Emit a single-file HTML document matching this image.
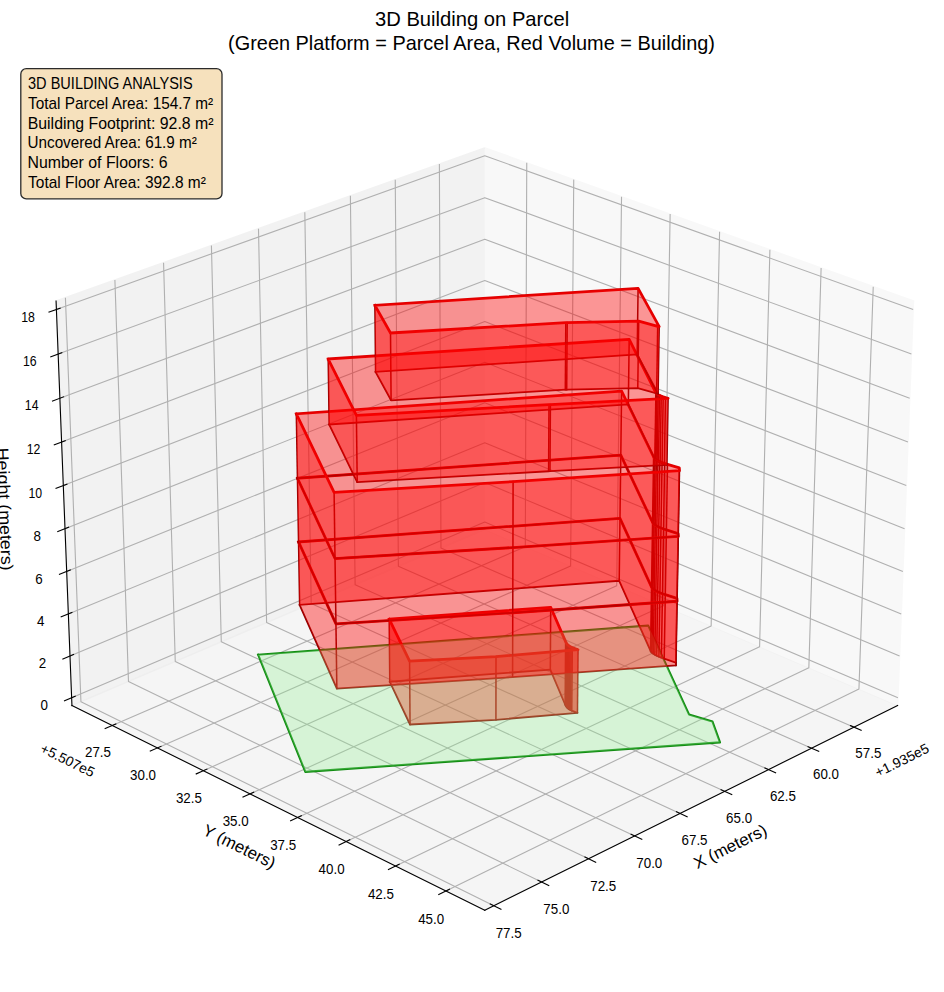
<!DOCTYPE html>
<html><head><meta charset="utf-8"><title>3D Building on Parcel</title>
<style>html,body{margin:0;padding:0;background:#fff;width:944px;height:992px;overflow:hidden}
svg text{font-family:"Liberation Sans",sans-serif}</style></head>
<body>
<svg width="944" height="992" viewBox="0 0 679.68 714.24" version="1.1" style="display:block">
<defs>
<style type="text/css">*{stroke-linejoin: round; stroke-linecap: butt}</style>
</defs>
<g id="figure_1">
<g id="patch_1">
<path d="M 0 714.24 
L 679.68 714.24 
L 679.68 0 
L 0 0 
z
" style="fill: #ffffff"/>
</g>
<g id="patch_2">
<path d="M 7.26 706.92 
L 672.84 706.92 
L 672.84 41.34 
L 7.26 41.34 
z
" style="fill: #ffffff"/>
</g>
<g id="pane3d_1">
<g id="patch_3">
<path d="M 349.04 381.18 
L 646.29 508 
L 657.72 216.77 
L 349.04 106.43 
" style="fill: #f2f2f2; opacity: 0.5; stroke: #f2f2f2; stroke-linejoin: miter"/>
</g>
</g>
<g id="pane3d_2">
<g id="patch_4">
<path d="M 349.04 381.18 
L 51.8 508 
L 40.37 216.77 
L 349.04 106.43 
" style="fill: #e6e6e6; opacity: 0.5; stroke: #e6e6e6; stroke-linejoin: miter"/>
</g>
</g>
<g id="pane3d_3">
<g id="patch_5">
<path d="M 349.04 381.18 
L 51.8 508 
L 349.04 655.36 
L 646.29 508 
" style="fill: #ececec; opacity: 0.5; stroke: #ececec; stroke-linejoin: miter"/>
</g>
</g>
<g id="grid3d_1">
<g id="Line3DCollection_1">
<path d="M 614.9 523.56 
L 317.5 394.64 
L 316.36 118.12 
" style="fill: none; stroke: #b0b0b0; stroke-width: 0.8"/>
<path d="M 584.36 538.71 
L 286.83 407.72 
L 284.58 129.48 
" style="fill: none; stroke: #b0b0b0; stroke-width: 0.8"/>
<path d="M 553.3 554.1 
L 255.69 421.01 
L 252.28 141.02 
" style="fill: none; stroke: #b0b0b0; stroke-width: 0.8"/>
<path d="M 521.72 569.75 
L 224.07 434.5 
L 219.47 152.75 
" style="fill: none; stroke: #b0b0b0; stroke-width: 0.8"/>
<path d="M 489.61 585.67 
L 191.95 448.21 
L 186.11 164.67 
" style="fill: none; stroke: #b0b0b0; stroke-width: 0.8"/>
<path d="M 456.96 601.86 
L 159.32 462.13 
L 152.22 176.79 
" style="fill: none; stroke: #b0b0b0; stroke-width: 0.8"/>
<path d="M 423.74 618.33 
L 126.18 476.27 
L 117.76 189.11 
" style="fill: none; stroke: #b0b0b0; stroke-width: 0.8"/>
<path d="M 389.94 635.08 
L 92.5 490.64 
L 82.73 201.63 
" style="fill: none; stroke: #b0b0b0; stroke-width: 0.8"/>
<path d="M 355.55 652.13 
L 58.27 505.24 
L 47.1 214.36 
" style="fill: none; stroke: #b0b0b0; stroke-width: 0.8"/>
</g>
</g>
<g id="grid3d_2">
<g id="Line3DCollection_2">
<path d="M 379.26 117.24 
L 378.21 393.63 
L 80.82 522.39 
" style="fill: none; stroke: #b0b0b0; stroke-width: 0.8"/>
<path d="M 413.09 129.33 
L 410.85 407.55 
L 113.33 538.51 
" style="fill: none; stroke: #b0b0b0; stroke-width: 0.8"/>
<path d="M 447.5 141.63 
L 444.03 421.71 
L 146.42 554.91 
" style="fill: none; stroke: #b0b0b0; stroke-width: 0.8"/>
<path d="M 482.5 154.14 
L 477.75 436.09 
L 180.09 571.6 
" style="fill: none; stroke: #b0b0b0; stroke-width: 0.8"/>
<path d="M 518.1 166.86 
L 512.04 450.72 
L 214.38 588.6 
" style="fill: none; stroke: #b0b0b0; stroke-width: 0.8"/>
<path d="M 554.33 179.81 
L 546.91 465.6 
L 249.29 605.91 
" style="fill: none; stroke: #b0b0b0; stroke-width: 0.8"/>
<path d="M 591.2 192.99 
L 582.37 480.73 
L 284.84 623.53 
" style="fill: none; stroke: #b0b0b0; stroke-width: 0.8"/>
<path d="M 628.73 206.41 
L 618.44 496.12 
L 321.05 641.48 
" style="fill: none; stroke: #b0b0b0; stroke-width: 0.8"/>
</g>
</g>
<g id="grid3d_3">
<g id="Line3DCollection_3">
<path d="M 51.58 502.39 
L 349.04 375.87 
L 646.51 502.39 
" style="fill: none; stroke: #b0b0b0; stroke-width: 0.8"/>
<path d="M 50.4 472.31 
L 349.04 347.43 
L 647.69 472.31 
" style="fill: none; stroke: #b0b0b0; stroke-width: 0.8"/>
<path d="M 49.21 442 
L 349.04 318.78 
L 648.88 442 
" style="fill: none; stroke: #b0b0b0; stroke-width: 0.8"/>
<path d="M 48.01 411.44 
L 349.04 289.92 
L 650.08 411.44 
" style="fill: none; stroke: #b0b0b0; stroke-width: 0.8"/>
<path d="M 46.8 380.63 
L 349.04 260.84 
L 651.29 380.63 
" style="fill: none; stroke: #b0b0b0; stroke-width: 0.8"/>
<path d="M 45.58 349.58 
L 349.04 231.54 
L 652.51 349.58 
" style="fill: none; stroke: #b0b0b0; stroke-width: 0.8"/>
<path d="M 44.35 318.27 
L 349.04 202.02 
L 653.74 318.27 
" style="fill: none; stroke: #b0b0b0; stroke-width: 0.8"/>
<path d="M 43.11 286.71 
L 349.04 172.28 
L 654.98 286.71 
" style="fill: none; stroke: #b0b0b0; stroke-width: 0.8"/>
<path d="M 41.86 254.89 
L 349.04 142.32 
L 656.22 254.89 
" style="fill: none; stroke: #b0b0b0; stroke-width: 0.8"/>
<path d="M 40.6 222.82 
L 349.04 112.12 
L 657.48 222.82 
" style="fill: none; stroke: #b0b0b0; stroke-width: 0.8"/>
</g>
</g>
<g id="axis3d_1">
<g id="line2d_1">
<path d="M 646.29 508 
L 349.04 655.36 
" style="fill: none; stroke: #000000; stroke-width: 0.8; stroke-linecap: square"/>
</g>
<g id="xtick_1">
<g id="line2d_2">
<path d="M 612.35 522.45 
L 620.03 525.78 
" style="fill: none; stroke: #000000; stroke-width: 0.8; stroke-linecap: square"/>
</g>
<g id="text_1">
<text textLength="18.71" lengthAdjust="spacingAndGlyphs" style="font-size: 10.8px; font-family: 'Liberation Sans', sans-serif; text-anchor: middle" x="625.2" y="545.37" transform="translate(0 0.40) rotate(-0 625.2 545.37)">57.5</text>
</g>
</g>
<g id="xtick_2">
<g id="line2d_3">
<path d="M 581.8 537.58 
L 589.48 540.96 
" style="fill: none; stroke: #000000; stroke-width: 0.8; stroke-linecap: square"/>
</g>
<g id="text_2">
<text textLength="18.71" lengthAdjust="spacingAndGlyphs" style="font-size: 10.8px; font-family: 'Liberation Sans', sans-serif; text-anchor: middle" x="594.7" y="560.65" transform="translate(0 0.40) rotate(-0 594.7 560.65)">60.0</text>
</g>
</g>
<g id="xtick_3">
<g id="line2d_4">
<path d="M 550.74 552.96 
L 558.43 556.4 
" style="fill: none; stroke: #000000; stroke-width: 0.8; stroke-linecap: square"/>
</g>
<g id="text_3">
<text textLength="18.71" lengthAdjust="spacingAndGlyphs" style="font-size: 10.8px; font-family: 'Liberation Sans', sans-serif; text-anchor: middle" x="563.69" y="576.18" transform="translate(0 0.40) rotate(-0 563.69 576.18)">62.5</text>
</g>
</g>
<g id="xtick_4">
<g id="line2d_5">
<path d="M 519.16 568.59 
L 526.86 572.09 
" style="fill: none; stroke: #000000; stroke-width: 0.8; stroke-linecap: square"/>
</g>
<g id="text_4">
<text textLength="18.71" lengthAdjust="spacingAndGlyphs" style="font-size: 10.8px; font-family: 'Liberation Sans', sans-serif; text-anchor: middle" x="532.16" y="591.98" transform="translate(0 0.40) rotate(-0 532.16 591.98)">65.0</text>
</g>
</g>
<g id="xtick_5">
<g id="line2d_6">
<path d="M 487.05 584.49 
L 494.75 588.05 
" style="fill: none; stroke: #000000; stroke-width: 0.8; stroke-linecap: square"/>
</g>
<g id="text_5">
<text textLength="18.71" lengthAdjust="spacingAndGlyphs" style="font-size: 10.8px; font-family: 'Liberation Sans', sans-serif; text-anchor: middle" x="500.09" y="608.04" transform="translate(0 0.40) rotate(-0 500.09 608.04)">67.5</text>
</g>
</g>
<g id="xtick_6">
<g id="line2d_7">
<path d="M 454.39 600.66 
L 462.1 604.28 
" style="fill: none; stroke: #000000; stroke-width: 0.8; stroke-linecap: square"/>
</g>
<g id="text_6">
<text textLength="18.71" lengthAdjust="spacingAndGlyphs" style="font-size: 10.8px; font-family: 'Liberation Sans', sans-serif; text-anchor: middle" x="467.48" y="624.37" transform="translate(0 0.40) rotate(-0 467.48 624.37)">70.0</text>
</g>
</g>
<g id="xtick_7">
<g id="line2d_8">
<path d="M 421.17 617.1 
L 428.88 620.79 
" style="fill: none; stroke: #000000; stroke-width: 0.8; stroke-linecap: square"/>
</g>
<g id="text_7">
<text textLength="18.71" lengthAdjust="spacingAndGlyphs" style="font-size: 10.8px; font-family: 'Liberation Sans', sans-serif; text-anchor: middle" x="434.31" y="640.99" transform="translate(0 0.40) rotate(-0 434.31 640.99)">72.5</text>
</g>
</g>
<g id="xtick_8">
<g id="line2d_9">
<path d="M 387.37 633.84 
L 395.09 637.58 
" style="fill: none; stroke: #000000; stroke-width: 0.8; stroke-linecap: square"/>
</g>
<g id="text_8">
<text textLength="18.71" lengthAdjust="spacingAndGlyphs" style="font-size: 10.8px; font-family: 'Liberation Sans', sans-serif; text-anchor: middle" x="400.56" y="657.89" transform="translate(0 0.40) rotate(-0 400.56 657.89)">75.0</text>
</g>
</g>
<g id="xtick_9">
<g id="line2d_10">
<path d="M 352.98 650.86 
L 360.7 654.67 
" style="fill: none; stroke: #000000; stroke-width: 0.8; stroke-linecap: square"/>
</g>
<g id="text_9">
<text textLength="18.71" lengthAdjust="spacingAndGlyphs" style="font-size: 10.8px; font-family: 'Liberation Sans', sans-serif; text-anchor: middle" x="366.22" y="675.09" transform="translate(0 0.40) rotate(-0 366.22 675.09)">77.5</text>
</g>
</g>
<g id="text_10">
<text style="font-size: 10px; font-family: 'Liberation Sans', sans-serif; text-anchor: end" x="669.75" y="540.46" transform="translate(0 0.75) rotate(-26.37 669.75 540.46)">+1.935e5</text>
</g>
<g id="text_11">
<text textLength="57.12" lengthAdjust="spacingAndGlyphs" style="font-size: 12px; font-family: 'Liberation Sans', sans-serif; text-anchor: middle" x="527.6" y="613.11" transform="rotate(-26.37 527.6 613.11)">X (meters)</text>
</g>
</g>
<g id="axis3d_2">
<g id="line2d_11">
<path d="M 51.8 508 
L 349.04 655.36 
" style="fill: none; stroke: #000000; stroke-width: 0.8; stroke-linecap: square"/>
</g>
<g id="xtick_10">
<g id="line2d_12">
<path d="M 83.38 521.28 
L 75.7 524.61 
" style="fill: none; stroke: #000000; stroke-width: 0.8; stroke-linecap: square"/>
</g>
<g id="text_12">
<text textLength="18.71" lengthAdjust="spacingAndGlyphs" style="font-size: 10.8px; font-family: 'Liberation Sans', sans-serif; text-anchor: middle" x="70.53" y="544.19" transform="translate(0 1.10) rotate(-0 70.53 544.19)">27.5</text>
</g>
</g>
<g id="xtick_11">
<g id="line2d_13">
<path d="M 115.89 537.38 
L 108.2 540.77 
" style="fill: none; stroke: #000000; stroke-width: 0.8; stroke-linecap: square"/>
</g>
<g id="text_13">
<text textLength="18.71" lengthAdjust="spacingAndGlyphs" style="font-size: 10.8px; font-family: 'Liberation Sans', sans-serif; text-anchor: middle" x="102.99" y="560.45" transform="translate(0 1.10) rotate(-0 102.99 560.45)">30.0</text>
</g>
</g>
<g id="xtick_12">
<g id="line2d_14">
<path d="M 148.98 553.76 
L 141.28 557.21 
" style="fill: none; stroke: #000000; stroke-width: 0.8; stroke-linecap: square"/>
</g>
<g id="text_14">
<text textLength="18.71" lengthAdjust="spacingAndGlyphs" style="font-size: 10.8px; font-family: 'Liberation Sans', sans-serif; text-anchor: middle" x="136.03" y="577" transform="translate(0 1.10) rotate(-0 136.03 577)">32.5</text>
</g>
</g>
<g id="xtick_13">
<g id="line2d_15">
<path d="M 182.66 570.44 
L 174.96 573.94 
" style="fill: none; stroke: #000000; stroke-width: 0.8; stroke-linecap: square"/>
</g>
<g id="text_15">
<text textLength="18.71" lengthAdjust="spacingAndGlyphs" style="font-size: 10.8px; font-family: 'Liberation Sans', sans-serif; text-anchor: middle" x="169.66" y="593.84" transform="translate(0 1.10) rotate(-0 169.66 593.84)">35.0</text>
</g>
</g>
<g id="xtick_14">
<g id="line2d_16">
<path d="M 216.94 587.41 
L 209.24 590.98 
" style="fill: none; stroke: #000000; stroke-width: 0.8; stroke-linecap: square"/>
</g>
<g id="text_16">
<text textLength="18.71" lengthAdjust="spacingAndGlyphs" style="font-size: 10.8px; font-family: 'Liberation Sans', sans-serif; text-anchor: middle" x="203.89" y="610.99" transform="translate(0 1.10) rotate(-0 203.89 610.99)">37.5</text>
</g>
</g>
<g id="xtick_15">
<g id="line2d_17">
<path d="M 251.85 604.7 
L 244.14 608.33 
" style="fill: none; stroke: #000000; stroke-width: 0.8; stroke-linecap: square"/>
</g>
<g id="text_17">
<text textLength="18.71" lengthAdjust="spacingAndGlyphs" style="font-size: 10.8px; font-family: 'Liberation Sans', sans-serif; text-anchor: middle" x="238.75" y="628.45" transform="translate(0 1.10) rotate(-0 238.75 628.45)">40.0</text>
</g>
</g>
<g id="xtick_16">
<g id="line2d_18">
<path d="M 287.41 622.3 
L 279.69 626 
" style="fill: none; stroke: #000000; stroke-width: 0.8; stroke-linecap: square"/>
</g>
<g id="text_18">
<text textLength="18.71" lengthAdjust="spacingAndGlyphs" style="font-size: 10.8px; font-family: 'Liberation Sans', sans-serif; text-anchor: middle" x="274.25" y="646.23" transform="translate(0 1.10) rotate(-0 274.25 646.23)">42.5</text>
</g>
</g>
<g id="xtick_17">
<g id="line2d_19">
<path d="M 323.62 640.22 
L 315.9 644 
" style="fill: none; stroke: #000000; stroke-width: 0.8; stroke-linecap: square"/>
</g>
<g id="text_19">
<text textLength="18.71" lengthAdjust="spacingAndGlyphs" style="font-size: 10.8px; font-family: 'Liberation Sans', sans-serif; text-anchor: middle" x="310.41" y="664.35" transform="translate(0 1.10) rotate(-0 310.41 664.35)">45.0</text>
</g>
</g>
<g id="text_20">
<text style="font-size: 10px; font-family: 'Liberation Sans', sans-serif; text-anchor: start" x="28.34" y="540.46" transform="translate(0 0.75) rotate(-333.63 28.34 540.46)">+5.507e5</text>
</g>
<g id="text_21">
<text textLength="56.90" lengthAdjust="spacingAndGlyphs" style="font-size: 12px; font-family: 'Liberation Sans', sans-serif; text-anchor: middle" x="170.49" y="613.11" transform="rotate(-333.63 170.49 613.11)">Y (meters)</text>
</g>
</g>
<g id="axis3d_3">
<g id="line2d_20">
<path d="M 51.8 508 
L 40.37 216.77 
" style="fill: none; stroke: #000000; stroke-width: 0.8; stroke-linecap: square"/>
</g>
<g id="xtick_18">
<g id="line2d_21">
<path d="M 54.13 501.3 
L 46.45 504.57 
" style="fill: none; stroke: #000000; stroke-width: 0.8; stroke-linecap: square"/>
</g>
<g id="text_22">
<text textLength="5.35" lengthAdjust="spacingAndGlyphs" style="font-size: 10.8px; font-family: 'Liberation Sans', sans-serif; text-anchor: middle" x="31.84" y="510.22" transform="translate(0 1.00) rotate(-0 31.84 510.22)">0</text>
</g>
</g>
<g id="xtick_19">
<g id="line2d_22">
<path d="M 52.96 471.24 
L 45.25 474.46 
" style="fill: none; stroke: #000000; stroke-width: 0.8; stroke-linecap: square"/>
</g>
<g id="text_23">
<text textLength="5.35" lengthAdjust="spacingAndGlyphs" style="font-size: 10.8px; font-family: 'Liberation Sans', sans-serif; text-anchor: middle" x="30.58" y="480.14" transform="translate(0 1.00) rotate(-0 30.58 480.14)">2</text>
</g>
</g>
<g id="xtick_20">
<g id="line2d_23">
<path d="M 51.78 440.94 
L 44.04 444.12 
" style="fill: none; stroke: #000000; stroke-width: 0.8; stroke-linecap: square"/>
</g>
<g id="text_24">
<text textLength="5.35" lengthAdjust="spacingAndGlyphs" style="font-size: 10.8px; font-family: 'Liberation Sans', sans-serif; text-anchor: middle" x="29.31" y="449.82" transform="translate(0 1.00) rotate(-0 29.31 449.82)">4</text>
</g>
</g>
<g id="xtick_21">
<g id="line2d_24">
<path d="M 50.6 410.39 
L 42.82 413.53 
" style="fill: none; stroke: #000000; stroke-width: 0.8; stroke-linecap: square"/>
</g>
<g id="text_25">
<text textLength="5.35" lengthAdjust="spacingAndGlyphs" style="font-size: 10.8px; font-family: 'Liberation Sans', sans-serif; text-anchor: middle" x="28.03" y="419.26" transform="translate(0 1.00) rotate(-0 28.03 419.26)">6</text>
</g>
</g>
<g id="xtick_22">
<g id="line2d_25">
<path d="M 49.4 379.6 
L 41.59 382.7 
" style="fill: none; stroke: #000000; stroke-width: 0.8; stroke-linecap: square"/>
</g>
<g id="text_26">
<text textLength="5.35" lengthAdjust="spacingAndGlyphs" style="font-size: 10.8px; font-family: 'Liberation Sans', sans-serif; text-anchor: middle" x="26.74" y="388.46" transform="translate(0 1.00) rotate(-0 26.74 388.46)">8</text>
</g>
</g>
<g id="xtick_23">
<g id="line2d_26">
<path d="M 48.19 348.56 
L 40.35 351.61 
" style="fill: none; stroke: #000000; stroke-width: 0.8; stroke-linecap: square"/>
</g>
<g id="text_27">
<text textLength="9.85" lengthAdjust="spacingAndGlyphs" style="font-size: 10.8px; font-family: 'Liberation Sans', sans-serif; text-anchor: middle" x="25.44" y="357.4" transform="translate(0 1.00) rotate(-0 25.44 357.4)">10</text>
</g>
</g>
<g id="xtick_24">
<g id="line2d_27">
<path d="M 46.97 317.27 
L 39.09 320.28 
" style="fill: none; stroke: #000000; stroke-width: 0.8; stroke-linecap: square"/>
</g>
<g id="text_28">
<text textLength="9.85" lengthAdjust="spacingAndGlyphs" style="font-size: 10.8px; font-family: 'Liberation Sans', sans-serif; text-anchor: middle" x="24.13" y="326.1" transform="translate(0 1.00) rotate(-0 24.13 326.1)">12</text>
</g>
</g>
<g id="xtick_25">
<g id="line2d_28">
<path d="M 45.74 285.73 
L 37.83 288.69 
" style="fill: none; stroke: #000000; stroke-width: 0.8; stroke-linecap: square"/>
</g>
<g id="text_29">
<text textLength="9.85" lengthAdjust="spacingAndGlyphs" style="font-size: 10.8px; font-family: 'Liberation Sans', sans-serif; text-anchor: middle" x="22.81" y="294.54" transform="translate(0 1.00) rotate(-0 22.81 294.54)">14</text>
</g>
</g>
<g id="xtick_26">
<g id="line2d_29">
<path d="M 44.51 253.92 
L 36.56 256.84 
" style="fill: none; stroke: #000000; stroke-width: 0.8; stroke-linecap: square"/>
</g>
<g id="text_30">
<text textLength="9.85" lengthAdjust="spacingAndGlyphs" style="font-size: 10.8px; font-family: 'Liberation Sans', sans-serif; text-anchor: middle" x="21.48" y="262.72" transform="translate(0 1.00) rotate(-0 21.48 262.72)">16</text>
</g>
</g>
<g id="xtick_27">
<g id="line2d_30">
<path d="M 43.26 221.86 
L 35.28 224.73 
" style="fill: none; stroke: #000000; stroke-width: 0.8; stroke-linecap: square"/>
</g>
<g id="text_31">
<text textLength="9.85" lengthAdjust="spacingAndGlyphs" style="font-size: 10.8px; font-family: 'Liberation Sans', sans-serif; text-anchor: middle" x="20.14" y="230.64" transform="translate(0 1.00) rotate(-0 20.14 230.64)">18</text>
</g>
</g>
<g id="text_32">
<text textLength="88.47" lengthAdjust="spacingAndGlyphs" style="font-size: 12px; font-family: 'Liberation Sans', sans-serif; text-anchor: middle" x="-0.59" y="365.26" transform="translate(0 1.5) rotate(-272.25 -0.59 365.26)">Height (meters)</text>
</g>
</g>
<g id="axes_1">
<g id="line2d_31">
<path d="M 185.83 471.38 
L 466.71 450.43 
L 496.08 514.37 
L 513 519.56 
L 518.4 534.53 
L 219.82 555.77 
L 185.83 471.38 
" clip-path="url(#p1579cad66d)" style="fill: none; stroke: #128c12; stroke-width: 1.5; stroke-linecap: square"/>
</g>
<g id="line2d_32">
<path d="M 280.63 490.81 
L 396.23 482.07 
L 406.9 507.25 
L 407.25 508 
L 407.68 508.68 
L 408.17 509.31 
L 408.74 509.9 
L 409.38 510.42 
L 410.07 510.88 
L 410.84 511.29 
L 411.67 511.65 
L 415.76 513.2 
L 357.07 518.26 
L 295.23 521.64 
L 280.63 490.81 
" clip-path="url(#p1579cad66d)" style="fill: none; stroke: #8b0000; stroke-width: 1.3; stroke-linecap: square"/>
</g>
<g id="line2d_33">
<path d="M 280.63 490.81 
L 280.22 445.82 
" clip-path="url(#p1579cad66d)" style="fill: none; stroke: #8b0000; stroke-width: 1.1; stroke-linecap: square"/>
</g>
<g id="line2d_34">
<path d="M 396.23 482.07 
L 396.51 437.25 
" clip-path="url(#p1579cad66d)" style="fill: none; stroke: #8b0000; stroke-width: 1.1; stroke-linecap: square"/>
</g>
<g id="line2d_35">
<path d="M 406.9 507.25 
L 407.24 461.95 
" clip-path="url(#p1579cad66d)" style="fill: none; stroke: #8b0000; stroke-width: 1.1; stroke-linecap: square"/>
</g>
<g id="line2d_36">
<path d="M 407.25 508 
L 407.6 462.68 
" clip-path="url(#p1579cad66d)" style="fill: none; stroke: #8b0000; stroke-width: 1.1; stroke-linecap: square"/>
</g>
<g id="line2d_37">
<path d="M 407.68 508.68 
L 408.03 463.35 
" clip-path="url(#p1579cad66d)" style="fill: none; stroke: #8b0000; stroke-width: 1.1; stroke-linecap: square"/>
</g>
<g id="line2d_38">
<path d="M 408.17 509.31 
L 408.52 463.97 
" clip-path="url(#p1579cad66d)" style="fill: none; stroke: #8b0000; stroke-width: 1.1; stroke-linecap: square"/>
</g>
<g id="line2d_39">
<path d="M 408.74 509.9 
L 409.09 464.55 
" clip-path="url(#p1579cad66d)" style="fill: none; stroke: #8b0000; stroke-width: 1.1; stroke-linecap: square"/>
</g>
<g id="line2d_40">
<path d="M 409.38 510.42 
L 409.74 465.06 
" clip-path="url(#p1579cad66d)" style="fill: none; stroke: #8b0000; stroke-width: 1.1; stroke-linecap: square"/>
</g>
<g id="line2d_41">
<path d="M 410.07 510.88 
L 410.43 465.51 
" clip-path="url(#p1579cad66d)" style="fill: none; stroke: #8b0000; stroke-width: 1.1; stroke-linecap: square"/>
</g>
<g id="line2d_42">
<path d="M 410.84 511.29 
L 411.21 465.92 
" clip-path="url(#p1579cad66d)" style="fill: none; stroke: #8b0000; stroke-width: 1.1; stroke-linecap: square"/>
</g>
<g id="line2d_43">
<path d="M 411.67 511.65 
L 412.04 466.27 
" clip-path="url(#p1579cad66d)" style="fill: none; stroke: #8b0000; stroke-width: 1.1; stroke-linecap: square"/>
</g>
<g id="line2d_44">
<path d="M 415.76 513.2 
L 416.16 467.79 
" clip-path="url(#p1579cad66d)" style="fill: none; stroke: #8b0000; stroke-width: 1.1; stroke-linecap: square"/>
</g>
<g id="line2d_45">
<path d="M 357.07 518.26 
L 357.12 472.75 
" clip-path="url(#p1579cad66d)" style="fill: none; stroke: #8b0000; stroke-width: 1.1; stroke-linecap: square"/>
</g>
<g id="line2d_46">
<path d="M 295.23 521.64 
L 294.91 476.07 
" clip-path="url(#p1579cad66d)" style="fill: none; stroke: #8b0000; stroke-width: 1.1; stroke-linecap: square"/>
</g>
<g id="line2d_47">
<path d="M 280.22 445.82 
L 396.51 437.25 
L 407.24 461.95 
L 407.6 462.68 
L 408.03 463.35 
L 408.52 463.97 
L 409.09 464.55 
L 409.74 465.06 
L 410.43 465.51 
L 411.21 465.92 
L 412.04 466.27 
L 416.16 467.79 
L 357.12 472.75 
L 294.91 476.07 
L 280.22 445.82 
" clip-path="url(#p1579cad66d)" style="fill: none; stroke: #e00000; stroke-width: 2; stroke-linecap: square"/>
</g>
<g id="line2d_48">
<path d="M 215.74 435.51 
L 445.83 418.15 
L 468.4 468.66 
L 468.83 469.35 
L 469.48 470.04 
L 470.35 470.74 
L 471.47 471.43 
L 472.81 472.14 
L 474.4 472.84 
L 476.19 473.55 
L 478.23 474.26 
L 486.56 477.03 
L 486.7 479.09 
L 369.06 487.53 
L 242.53 495.74 
L 215.74 435.51 
" clip-path="url(#p1579cad66d)" style="fill: none; stroke: #8b0000; stroke-width: 1.3; stroke-linecap: square"/>
</g>
<g id="line2d_49">
<path d="M 215.74 435.51 
L 214.95 390.19 
" clip-path="url(#p1579cad66d)" style="fill: none; stroke: #8b0000; stroke-width: 1.1; stroke-linecap: square"/>
</g>
<g id="line2d_50">
<path d="M 445.83 418.15 
L 446.39 373.19 
" clip-path="url(#p1579cad66d)" style="fill: none; stroke: #8b0000; stroke-width: 1.1; stroke-linecap: square"/>
</g>
<g id="line2d_51">
<path d="M 468.4 468.66 
L 469.12 422.68 
" clip-path="url(#p1579cad66d)" style="fill: none; stroke: #8b0000; stroke-width: 1.1; stroke-linecap: square"/>
</g>
<g id="line2d_52">
<path d="M 468.83 469.35 
L 469.55 423.35 
" clip-path="url(#p1579cad66d)" style="fill: none; stroke: #8b0000; stroke-width: 1.1; stroke-linecap: square"/>
</g>
<g id="line2d_53">
<path d="M 469.48 470.04 
L 470.2 424.03 
" clip-path="url(#p1579cad66d)" style="fill: none; stroke: #8b0000; stroke-width: 1.1; stroke-linecap: square"/>
</g>
<g id="line2d_54">
<path d="M 470.35 470.74 
L 471.09 424.72 
" clip-path="url(#p1579cad66d)" style="fill: none; stroke: #8b0000; stroke-width: 1.1; stroke-linecap: square"/>
</g>
<g id="line2d_55">
<path d="M 471.47 471.43 
L 472.22 425.4 
" clip-path="url(#p1579cad66d)" style="fill: none; stroke: #8b0000; stroke-width: 1.1; stroke-linecap: square"/>
</g>
<g id="line2d_56">
<path d="M 472.81 472.14 
L 473.56 426.1 
" clip-path="url(#p1579cad66d)" style="fill: none; stroke: #8b0000; stroke-width: 1.1; stroke-linecap: square"/>
</g>
<g id="line2d_57">
<path d="M 474.4 472.84 
L 475.15 426.78 
" clip-path="url(#p1579cad66d)" style="fill: none; stroke: #8b0000; stroke-width: 1.1; stroke-linecap: square"/>
</g>
<g id="line2d_58">
<path d="M 476.19 473.55 
L 476.97 427.47 
" clip-path="url(#p1579cad66d)" style="fill: none; stroke: #8b0000; stroke-width: 1.1; stroke-linecap: square"/>
</g>
<g id="line2d_59">
<path d="M 478.23 474.26 
L 479.01 428.17 
" clip-path="url(#p1579cad66d)" style="fill: none; stroke: #8b0000; stroke-width: 1.1; stroke-linecap: square"/>
</g>
<g id="line2d_60">
<path d="M 486.56 477.03 
L 487.39 430.88 
" clip-path="url(#p1579cad66d)" style="fill: none; stroke: #8b0000; stroke-width: 1.1; stroke-linecap: square"/>
</g>
<g id="line2d_61">
<path d="M 486.7 479.09 
L 487.53 432.9 
" clip-path="url(#p1579cad66d)" style="fill: none; stroke: #8b0000; stroke-width: 1.1; stroke-linecap: square"/>
</g>
<g id="line2d_62">
<path d="M 369.06 487.53 
L 369.18 441.18 
" clip-path="url(#p1579cad66d)" style="fill: none; stroke: #8b0000; stroke-width: 1.1; stroke-linecap: square"/>
</g>
<g id="line2d_63">
<path d="M 242.53 495.74 
L 241.88 449.22 
" clip-path="url(#p1579cad66d)" style="fill: none; stroke: #8b0000; stroke-width: 1.1; stroke-linecap: square"/>
</g>
<g id="line2d_64">
<path d="M 214.95 390.19 
L 446.39 373.19 
L 469.12 422.68 
L 469.55 423.35 
L 470.2 424.03 
L 471.09 424.72 
L 472.22 425.4 
L 473.56 426.1 
L 475.15 426.78 
L 476.97 427.47 
L 479.01 428.17 
L 487.39 430.88 
L 487.53 432.9 
L 369.18 441.18 
L 241.88 449.22 
L 214.95 390.19 
" clip-path="url(#p1579cad66d)" style="fill: none; stroke: #e00000; stroke-width: 2; stroke-linecap: square"/>
</g>
<g id="line2d_65">
<path d="M 214.95 390.19 
L 446.39 373.19 
L 469.12 422.68 
L 469.55 423.35 
L 470.2 424.03 
L 471.09 424.72 
L 472.22 425.4 
L 473.56 426.1 
L 475.15 426.78 
L 476.97 427.47 
L 479.01 428.17 
L 487.39 430.88 
L 487.53 432.9 
L 369.18 441.18 
L 241.88 449.22 
L 214.95 390.19 
" clip-path="url(#p1579cad66d)" style="fill: none; stroke: #8b0000; stroke-width: 1.3; stroke-linecap: square"/>
</g>
<g id="line2d_66">
<path d="M 214.95 390.19 
L 214.16 344.34 
" clip-path="url(#p1579cad66d)" style="fill: none; stroke: #8b0000; stroke-width: 1.1; stroke-linecap: square"/>
</g>
<g id="line2d_67">
<path d="M 446.39 373.19 
L 446.97 327.7 
" clip-path="url(#p1579cad66d)" style="fill: none; stroke: #8b0000; stroke-width: 1.1; stroke-linecap: square"/>
</g>
<g id="line2d_68">
<path d="M 469.12 422.68 
L 469.85 376.14 
" clip-path="url(#p1579cad66d)" style="fill: none; stroke: #8b0000; stroke-width: 1.1; stroke-linecap: square"/>
</g>
<g id="line2d_69">
<path d="M 469.55 423.35 
L 470.29 376.8 
" clip-path="url(#p1579cad66d)" style="fill: none; stroke: #8b0000; stroke-width: 1.1; stroke-linecap: square"/>
</g>
<g id="line2d_70">
<path d="M 470.2 424.03 
L 470.94 377.47 
" clip-path="url(#p1579cad66d)" style="fill: none; stroke: #8b0000; stroke-width: 1.1; stroke-linecap: square"/>
</g>
<g id="line2d_71">
<path d="M 471.09 424.72 
L 471.83 378.14 
" clip-path="url(#p1579cad66d)" style="fill: none; stroke: #8b0000; stroke-width: 1.1; stroke-linecap: square"/>
</g>
<g id="line2d_72">
<path d="M 472.22 425.4 
L 472.96 378.81 
" clip-path="url(#p1579cad66d)" style="fill: none; stroke: #8b0000; stroke-width: 1.1; stroke-linecap: square"/>
</g>
<g id="line2d_73">
<path d="M 473.56 426.1 
L 474.32 379.49 
" clip-path="url(#p1579cad66d)" style="fill: none; stroke: #8b0000; stroke-width: 1.1; stroke-linecap: square"/>
</g>
<g id="line2d_74">
<path d="M 475.15 426.78 
L 475.92 380.16 
" clip-path="url(#p1579cad66d)" style="fill: none; stroke: #8b0000; stroke-width: 1.1; stroke-linecap: square"/>
</g>
<g id="line2d_75">
<path d="M 476.97 427.47 
L 477.74 380.84 
" clip-path="url(#p1579cad66d)" style="fill: none; stroke: #8b0000; stroke-width: 1.1; stroke-linecap: square"/>
</g>
<g id="line2d_76">
<path d="M 479.01 428.17 
L 479.8 381.52 
" clip-path="url(#p1579cad66d)" style="fill: none; stroke: #8b0000; stroke-width: 1.1; stroke-linecap: square"/>
</g>
<g id="line2d_77">
<path d="M 487.39 430.88 
L 488.24 384.17 
" clip-path="url(#p1579cad66d)" style="fill: none; stroke: #8b0000; stroke-width: 1.1; stroke-linecap: square"/>
</g>
<g id="line2d_78">
<path d="M 487.53 432.9 
L 488.38 386.15 
" clip-path="url(#p1579cad66d)" style="fill: none; stroke: #8b0000; stroke-width: 1.1; stroke-linecap: square"/>
</g>
<g id="line2d_79">
<path d="M 369.18 441.18 
L 369.31 394.26 
" clip-path="url(#p1579cad66d)" style="fill: none; stroke: #8b0000; stroke-width: 1.1; stroke-linecap: square"/>
</g>
<g id="line2d_80">
<path d="M 241.88 449.22 
L 241.21 402.13 
" clip-path="url(#p1579cad66d)" style="fill: none; stroke: #8b0000; stroke-width: 1.1; stroke-linecap: square"/>
</g>
<g id="line2d_81">
<path d="M 214.16 344.34 
L 446.97 327.7 
L 469.85 376.14 
L 470.29 376.8 
L 470.94 377.47 
L 471.83 378.14 
L 472.96 378.81 
L 474.32 379.49 
L 475.92 380.16 
L 477.74 380.84 
L 479.8 381.52 
L 488.24 384.17 
L 488.38 386.15 
L 369.31 394.26 
L 241.21 402.13 
L 214.16 344.34 
" clip-path="url(#p1579cad66d)" style="fill: none; stroke: #e00000; stroke-width: 2; stroke-linecap: square"/>
</g>
<g id="line2d_82">
<path d="M 214.16 344.34 
L 446.97 327.7 
L 469.85 376.14 
L 470.29 376.8 
L 470.94 377.47 
L 471.83 378.14 
L 472.96 378.81 
L 474.32 379.49 
L 475.92 380.16 
L 477.74 380.84 
L 479.8 381.52 
L 488.24 384.17 
L 488.38 386.15 
L 369.31 394.26 
L 241.21 402.13 
L 214.16 344.34 
" clip-path="url(#p1579cad66d)" style="fill: none; stroke: #8b0000; stroke-width: 1.3; stroke-linecap: square"/>
</g>
<g id="line2d_83">
<path d="M 214.16 344.34 
L 213.35 297.94 
" clip-path="url(#p1579cad66d)" style="fill: none; stroke: #8b0000; stroke-width: 1.1; stroke-linecap: square"/>
</g>
<g id="line2d_84">
<path d="M 446.97 327.7 
L 447.55 281.66 
" clip-path="url(#p1579cad66d)" style="fill: none; stroke: #8b0000; stroke-width: 1.1; stroke-linecap: square"/>
</g>
<g id="line2d_85">
<path d="M 469.85 376.14 
L 470.59 329.04 
" clip-path="url(#p1579cad66d)" style="fill: none; stroke: #8b0000; stroke-width: 1.1; stroke-linecap: square"/>
</g>
<g id="line2d_86">
<path d="M 470.29 376.8 
L 471.03 329.68 
" clip-path="url(#p1579cad66d)" style="fill: none; stroke: #8b0000; stroke-width: 1.1; stroke-linecap: square"/>
</g>
<g id="line2d_87">
<path d="M 470.94 377.47 
L 471.69 330.33 
" clip-path="url(#p1579cad66d)" style="fill: none; stroke: #8b0000; stroke-width: 1.1; stroke-linecap: square"/>
</g>
<g id="line2d_88">
<path d="M 471.83 378.14 
L 472.58 330.99 
" clip-path="url(#p1579cad66d)" style="fill: none; stroke: #8b0000; stroke-width: 1.1; stroke-linecap: square"/>
</g>
<g id="line2d_89">
<path d="M 472.96 378.81 
L 473.72 331.64 
" clip-path="url(#p1579cad66d)" style="fill: none; stroke: #8b0000; stroke-width: 1.1; stroke-linecap: square"/>
</g>
<g id="line2d_90">
<path d="M 474.32 379.49 
L 475.09 332.31 
" clip-path="url(#p1579cad66d)" style="fill: none; stroke: #8b0000; stroke-width: 1.1; stroke-linecap: square"/>
</g>
<g id="line2d_91">
<path d="M 475.92 380.16 
L 476.7 332.97 
" clip-path="url(#p1579cad66d)" style="fill: none; stroke: #8b0000; stroke-width: 1.1; stroke-linecap: square"/>
</g>
<g id="line2d_92">
<path d="M 477.74 380.84 
L 478.53 333.63 
" clip-path="url(#p1579cad66d)" style="fill: none; stroke: #8b0000; stroke-width: 1.1; stroke-linecap: square"/>
</g>
<g id="line2d_93">
<path d="M 479.8 381.52 
L 480.6 334.3 
" clip-path="url(#p1579cad66d)" style="fill: none; stroke: #8b0000; stroke-width: 1.1; stroke-linecap: square"/>
</g>
<g id="line2d_94">
<path d="M 488.24 384.17 
L 489.09 336.89 
" clip-path="url(#p1579cad66d)" style="fill: none; stroke: #8b0000; stroke-width: 1.1; stroke-linecap: square"/>
</g>
<g id="line2d_95">
<path d="M 488.38 386.15 
L 489.24 338.83 
" clip-path="url(#p1579cad66d)" style="fill: none; stroke: #8b0000; stroke-width: 1.1; stroke-linecap: square"/>
</g>
<g id="line2d_96">
<path d="M 369.31 394.26 
L 369.43 346.75 
" clip-path="url(#p1579cad66d)" style="fill: none; stroke: #8b0000; stroke-width: 1.1; stroke-linecap: square"/>
</g>
<g id="line2d_97">
<path d="M 241.21 402.13 
L 240.55 354.46 
" clip-path="url(#p1579cad66d)" style="fill: none; stroke: #8b0000; stroke-width: 1.1; stroke-linecap: square"/>
</g>
<g id="line2d_98">
<path d="M 213.35 297.94 
L 447.55 281.66 
L 470.59 329.04 
L 471.03 329.68 
L 471.69 330.33 
L 472.58 330.99 
L 473.72 331.64 
L 475.09 332.31 
L 476.7 332.97 
L 478.53 333.63 
L 480.6 334.3 
L 489.09 336.89 
L 489.24 338.83 
L 369.43 346.75 
L 240.55 354.46 
L 213.35 297.94 
" clip-path="url(#p1579cad66d)" style="fill: none; stroke: #e00000; stroke-width: 2; stroke-linecap: square"/>
</g>
<g id="line2d_99">
<path d="M 236.98 305.62 
L 452.4 291.1 
L 471.5 330.53 
L 471.81 330.98 
L 472.35 331.44 
L 473.12 331.92 
L 474.09 332.43 
L 475.3 332.96 
L 476.71 333.51 
L 478.35 334.07 
L 480.22 334.66 
L 396 339.23 
L 395 339.3 
L 257.19 347.12 
L 236.98 305.62 
" clip-path="url(#p1579cad66d)" style="fill: none; stroke: #8b0000; stroke-width: 1.3; stroke-linecap: square"/>
</g>
<g id="line2d_100">
<path d="M 236.98 305.62 
L 236.3 258.48 
" clip-path="url(#p1579cad66d)" style="fill: none; stroke: #8b0000; stroke-width: 1.1; stroke-linecap: square"/>
</g>
<g id="line2d_101">
<path d="M 452.4 291.1 
L 453.02 244.3 
" clip-path="url(#p1579cad66d)" style="fill: none; stroke: #8b0000; stroke-width: 1.1; stroke-linecap: square"/>
</g>
<g id="line2d_102">
<path d="M 471.5 330.53 
L 472.25 282.81 
" clip-path="url(#p1579cad66d)" style="fill: none; stroke: #8b0000; stroke-width: 1.1; stroke-linecap: square"/>
</g>
<g id="line2d_103">
<path d="M 471.81 330.98 
L 472.57 283.25 
" clip-path="url(#p1579cad66d)" style="fill: none; stroke: #8b0000; stroke-width: 1.1; stroke-linecap: square"/>
</g>
<g id="line2d_104">
<path d="M 472.35 331.44 
L 473.11 283.7 
" clip-path="url(#p1579cad66d)" style="fill: none; stroke: #8b0000; stroke-width: 1.1; stroke-linecap: square"/>
</g>
<g id="line2d_105">
<path d="M 473.12 331.92 
L 473.89 284.17 
" clip-path="url(#p1579cad66d)" style="fill: none; stroke: #8b0000; stroke-width: 1.1; stroke-linecap: square"/>
</g>
<g id="line2d_106">
<path d="M 474.09 332.43 
L 474.86 284.67 
" clip-path="url(#p1579cad66d)" style="fill: none; stroke: #8b0000; stroke-width: 1.1; stroke-linecap: square"/>
</g>
<g id="line2d_107">
<path d="M 475.3 332.96 
L 476.08 285.18 
" clip-path="url(#p1579cad66d)" style="fill: none; stroke: #8b0000; stroke-width: 1.1; stroke-linecap: square"/>
</g>
<g id="line2d_108">
<path d="M 476.71 333.51 
L 477.5 285.72 
" clip-path="url(#p1579cad66d)" style="fill: none; stroke: #8b0000; stroke-width: 1.1; stroke-linecap: square"/>
</g>
<g id="line2d_109">
<path d="M 478.35 334.07 
L 479.15 286.27 
" clip-path="url(#p1579cad66d)" style="fill: none; stroke: #8b0000; stroke-width: 1.1; stroke-linecap: square"/>
</g>
<g id="line2d_110">
<path d="M 480.22 334.66 
L 481.03 286.84 
" clip-path="url(#p1579cad66d)" style="fill: none; stroke: #8b0000; stroke-width: 1.1; stroke-linecap: square"/>
</g>
<g id="line2d_111">
<path d="M 396 339.23 
L 396.29 291.31 
" clip-path="url(#p1579cad66d)" style="fill: none; stroke: #8b0000; stroke-width: 1.1; stroke-linecap: square"/>
</g>
<g id="line2d_112">
<path d="M 395 339.3 
L 395.28 291.38 
" clip-path="url(#p1579cad66d)" style="fill: none; stroke: #8b0000; stroke-width: 1.1; stroke-linecap: square"/>
</g>
<g id="line2d_113">
<path d="M 257.19 347.12 
L 256.61 299.02 
" clip-path="url(#p1579cad66d)" style="fill: none; stroke: #8b0000; stroke-width: 1.1; stroke-linecap: square"/>
</g>
<g id="line2d_114">
<path d="M 236.3 258.48 
L 453.02 244.3 
L 472.25 282.81 
L 472.57 283.25 
L 473.11 283.7 
L 473.89 284.17 
L 474.86 284.67 
L 476.08 285.18 
L 477.5 285.72 
L 479.15 286.27 
L 481.03 286.84 
L 396.29 291.31 
L 395.28 291.38 
L 256.61 299.02 
L 236.3 258.48 
" clip-path="url(#p1579cad66d)" style="fill: none; stroke: #e00000; stroke-width: 2; stroke-linecap: square"/>
</g>
<g id="line2d_115">
<path d="M 270.41 267.76 
L 458.76 255.22 
L 473.85 283.48 
L 472.78 283.26 
L 459.19 279.42 
L 408.02 280.53 
L 407.02 280.6 
L 281.59 288.2 
L 270.41 267.76 
" clip-path="url(#p1579cad66d)" style="fill: none; stroke: #8b0000; stroke-width: 1.3; stroke-linecap: square"/>
</g>
<g id="line2d_116">
<path d="M 270.41 267.76 
L 269.93 219.81 
" clip-path="url(#p1579cad66d)" style="fill: none; stroke: #8b0000; stroke-width: 1.1; stroke-linecap: square"/>
</g>
<g id="line2d_117">
<path d="M 458.76 255.22 
L 459.43 207.58 
" clip-path="url(#p1579cad66d)" style="fill: none; stroke: #8b0000; stroke-width: 1.1; stroke-linecap: square"/>
</g>
<g id="line2d_118">
<path d="M 473.85 283.48 
L 474.62 235.15 
" clip-path="url(#p1579cad66d)" style="fill: none; stroke: #8b0000; stroke-width: 1.1; stroke-linecap: square"/>
</g>
<g id="line2d_119">
<path d="M 472.78 283.26 
L 473.54 234.94 
" clip-path="url(#p1579cad66d)" style="fill: none; stroke: #8b0000; stroke-width: 1.1; stroke-linecap: square"/>
</g>
<g id="line2d_120">
<path d="M 459.19 279.42 
L 459.87 231.19 
" clip-path="url(#p1579cad66d)" style="fill: none; stroke: #8b0000; stroke-width: 1.1; stroke-linecap: square"/>
</g>
<g id="line2d_121">
<path d="M 408.02 280.53 
L 408.38 232.28 
" clip-path="url(#p1579cad66d)" style="fill: none; stroke: #8b0000; stroke-width: 1.1; stroke-linecap: square"/>
</g>
<g id="line2d_122">
<path d="M 407.02 280.6 
L 407.38 232.34 
" clip-path="url(#p1579cad66d)" style="fill: none; stroke: #8b0000; stroke-width: 1.1; stroke-linecap: square"/>
</g>
<g id="line2d_123">
<path d="M 281.59 288.2 
L 281.17 239.76 
" clip-path="url(#p1579cad66d)" style="fill: none; stroke: #8b0000; stroke-width: 1.1; stroke-linecap: square"/>
</g>
<g id="line2d_124">
<path d="M 269.93 219.81 
L 459.43 207.58 
L 474.62 235.15 
L 473.54 234.94 
L 459.87 231.19 
L 408.38 232.28 
L 407.38 232.34 
L 281.17 239.76 
L 269.93 219.81 
" clip-path="url(#p1579cad66d)" style="fill: none; stroke: #e00000; stroke-width: 2; stroke-linecap: square"/>
</g>
<g id="Poly3DCollection_1">
<path d="M 280.63 490.81 
L 396.23 482.07 
L 396.51 437.25 
L 280.22 445.82 
z
" clip-path="url(#p1579cad66d)" style="fill: #ff0000; fill-opacity: 0.4"/>
<path d="M 396.23 482.07 
L 406.9 507.25 
L 407.24 461.95 
L 396.51 437.25 
z
" clip-path="url(#p1579cad66d)" style="fill: #ff0000; fill-opacity: 0.4"/>
<path d="M 295.23 521.64 
L 280.63 490.81 
L 280.22 445.82 
L 294.91 476.07 
z
" clip-path="url(#p1579cad66d)" style="fill: #ff0000; fill-opacity: 0.4"/>
<path d="M 406.9 507.25 
L 407.25 508 
L 407.6 462.68 
L 407.24 461.95 
z
" clip-path="url(#p1579cad66d)" style="fill: #ff0000; fill-opacity: 0.4"/>
<path d="M 407.25 508 
L 407.68 508.68 
L 408.03 463.35 
L 407.6 462.68 
z
" clip-path="url(#p1579cad66d)" style="fill: #ff0000; fill-opacity: 0.4"/>
<path d="M 407.68 508.68 
L 408.17 509.31 
L 408.52 463.97 
L 408.03 463.35 
z
" clip-path="url(#p1579cad66d)" style="fill: #ff0000; fill-opacity: 0.4"/>
<path d="M 408.17 509.31 
L 408.74 509.9 
L 409.09 464.55 
L 408.52 463.97 
z
" clip-path="url(#p1579cad66d)" style="fill: #ff0000; fill-opacity: 0.4"/>
<path d="M 408.74 509.9 
L 409.38 510.42 
L 409.74 465.06 
L 409.09 464.55 
z
" clip-path="url(#p1579cad66d)" style="fill: #ff0000; fill-opacity: 0.4"/>
<path d="M 409.38 510.42 
L 410.07 510.88 
L 410.43 465.51 
L 409.74 465.06 
z
" clip-path="url(#p1579cad66d)" style="fill: #ff0000; fill-opacity: 0.4"/>
<path d="M 410.07 510.88 
L 410.84 511.29 
L 411.21 465.92 
L 410.43 465.51 
z
" clip-path="url(#p1579cad66d)" style="fill: #ff0000; fill-opacity: 0.4"/>
<path d="M 410.84 511.29 
L 411.67 511.65 
L 412.04 466.27 
L 411.21 465.92 
z
" clip-path="url(#p1579cad66d)" style="fill: #ff0000; fill-opacity: 0.4"/>
<path d="M 411.67 511.65 
L 415.76 513.2 
L 416.16 467.79 
L 412.04 466.27 
z
" clip-path="url(#p1579cad66d)" style="fill: #ff0000; fill-opacity: 0.4"/>
<path d="M 415.76 513.2 
L 357.07 518.26 
L 357.12 472.75 
L 416.16 467.79 
z
" clip-path="url(#p1579cad66d)" style="fill: #ff0000; fill-opacity: 0.4"/>
<path d="M 357.07 518.26 
L 295.23 521.64 
L 294.91 476.07 
L 357.12 472.75 
z
" clip-path="url(#p1579cad66d)" style="fill: #ff0000; fill-opacity: 0.4"/>
</g>
<g id="Poly3DCollection_2">
<path d="M 185.83 471.38 
L 466.71 450.43 
L 496.08 514.37 
L 513 519.56 
L 518.4 534.53 
L 219.82 555.77 
z
" clip-path="url(#p1579cad66d)" style="fill: #90ee90; fill-opacity: 0.3"/>
</g>
<g id="Poly3DCollection_3">
<path d="M 215.74 435.51 
L 445.83 418.15 
L 446.39 373.19 
L 214.95 390.19 
z
" clip-path="url(#p1579cad66d)" style="fill: #ff0000; fill-opacity: 0.4"/>
<path d="M 445.83 418.15 
L 468.4 468.66 
L 469.12 422.68 
L 446.39 373.19 
z
" clip-path="url(#p1579cad66d)" style="fill: #ff0000; fill-opacity: 0.4"/>
<path d="M 242.53 495.74 
L 215.74 435.51 
L 214.95 390.19 
L 241.88 449.22 
z
" clip-path="url(#p1579cad66d)" style="fill: #ff0000; fill-opacity: 0.4"/>
<path d="M 468.4 468.66 
L 468.83 469.35 
L 469.55 423.35 
L 469.12 422.68 
z
" clip-path="url(#p1579cad66d)" style="fill: #ff0000; fill-opacity: 0.4"/>
<path d="M 468.83 469.35 
L 469.48 470.04 
L 470.2 424.03 
L 469.55 423.35 
z
" clip-path="url(#p1579cad66d)" style="fill: #ff0000; fill-opacity: 0.4"/>
<path d="M 469.48 470.04 
L 470.35 470.74 
L 471.09 424.72 
L 470.2 424.03 
z
" clip-path="url(#p1579cad66d)" style="fill: #ff0000; fill-opacity: 0.4"/>
<path d="M 470.35 470.74 
L 471.47 471.43 
L 472.22 425.4 
L 471.09 424.72 
z
" clip-path="url(#p1579cad66d)" style="fill: #ff0000; fill-opacity: 0.4"/>
<path d="M 471.47 471.43 
L 472.81 472.14 
L 473.56 426.1 
L 472.22 425.4 
z
" clip-path="url(#p1579cad66d)" style="fill: #ff0000; fill-opacity: 0.4"/>
<path d="M 472.81 472.14 
L 474.4 472.84 
L 475.15 426.78 
L 473.56 426.1 
z
" clip-path="url(#p1579cad66d)" style="fill: #ff0000; fill-opacity: 0.4"/>
<path d="M 474.4 472.84 
L 476.19 473.55 
L 476.97 427.47 
L 475.15 426.78 
z
" clip-path="url(#p1579cad66d)" style="fill: #ff0000; fill-opacity: 0.4"/>
<path d="M 476.19 473.55 
L 478.23 474.26 
L 479.01 428.17 
L 476.97 427.47 
z
" clip-path="url(#p1579cad66d)" style="fill: #ff0000; fill-opacity: 0.4"/>
<path d="M 478.23 474.26 
L 486.56 477.03 
L 487.39 430.88 
L 479.01 428.17 
z
" clip-path="url(#p1579cad66d)" style="fill: #ff0000; fill-opacity: 0.4"/>
<path d="M 486.56 477.03 
L 486.7 479.09 
L 487.53 432.9 
L 487.39 430.88 
z
" clip-path="url(#p1579cad66d)" style="fill: #ff0000; fill-opacity: 0.4"/>
<path d="M 486.7 479.09 
L 369.06 487.53 
L 369.18 441.18 
L 487.53 432.9 
z
" clip-path="url(#p1579cad66d)" style="fill: #ff0000; fill-opacity: 0.4"/>
<path d="M 369.06 487.53 
L 242.53 495.74 
L 241.88 449.22 
L 369.18 441.18 
z
" clip-path="url(#p1579cad66d)" style="fill: #ff0000; fill-opacity: 0.4"/>
</g>
<g id="Poly3DCollection_4">
<path d="M 214.95 390.19 
L 446.39 373.19 
L 446.97 327.7 
L 214.16 344.34 
z
" clip-path="url(#p1579cad66d)" style="fill: #ff0000; fill-opacity: 0.4"/>
<path d="M 446.39 373.19 
L 469.12 422.68 
L 469.85 376.14 
L 446.97 327.7 
z
" clip-path="url(#p1579cad66d)" style="fill: #ff0000; fill-opacity: 0.4"/>
<path d="M 241.88 449.22 
L 214.95 390.19 
L 214.16 344.34 
L 241.21 402.13 
z
" clip-path="url(#p1579cad66d)" style="fill: #ff0000; fill-opacity: 0.4"/>
<path d="M 469.12 422.68 
L 469.55 423.35 
L 470.29 376.8 
L 469.85 376.14 
z
" clip-path="url(#p1579cad66d)" style="fill: #ff0000; fill-opacity: 0.4"/>
<path d="M 469.55 423.35 
L 470.2 424.03 
L 470.94 377.47 
L 470.29 376.8 
z
" clip-path="url(#p1579cad66d)" style="fill: #ff0000; fill-opacity: 0.4"/>
<path d="M 470.2 424.03 
L 471.09 424.72 
L 471.83 378.14 
L 470.94 377.47 
z
" clip-path="url(#p1579cad66d)" style="fill: #ff0000; fill-opacity: 0.4"/>
<path d="M 471.09 424.72 
L 472.22 425.4 
L 472.96 378.81 
L 471.83 378.14 
z
" clip-path="url(#p1579cad66d)" style="fill: #ff0000; fill-opacity: 0.4"/>
<path d="M 472.22 425.4 
L 473.56 426.1 
L 474.32 379.49 
L 472.96 378.81 
z
" clip-path="url(#p1579cad66d)" style="fill: #ff0000; fill-opacity: 0.4"/>
<path d="M 473.56 426.1 
L 475.15 426.78 
L 475.92 380.16 
L 474.32 379.49 
z
" clip-path="url(#p1579cad66d)" style="fill: #ff0000; fill-opacity: 0.4"/>
<path d="M 475.15 426.78 
L 476.97 427.47 
L 477.74 380.84 
L 475.92 380.16 
z
" clip-path="url(#p1579cad66d)" style="fill: #ff0000; fill-opacity: 0.4"/>
<path d="M 476.97 427.47 
L 479.01 428.17 
L 479.8 381.52 
L 477.74 380.84 
z
" clip-path="url(#p1579cad66d)" style="fill: #ff0000; fill-opacity: 0.4"/>
<path d="M 479.01 428.17 
L 487.39 430.88 
L 488.24 384.17 
L 479.8 381.52 
z
" clip-path="url(#p1579cad66d)" style="fill: #ff0000; fill-opacity: 0.4"/>
<path d="M 487.39 430.88 
L 487.53 432.9 
L 488.38 386.15 
L 488.24 384.17 
z
" clip-path="url(#p1579cad66d)" style="fill: #ff0000; fill-opacity: 0.4"/>
<path d="M 487.53 432.9 
L 369.18 441.18 
L 369.31 394.26 
L 488.38 386.15 
z
" clip-path="url(#p1579cad66d)" style="fill: #ff0000; fill-opacity: 0.4"/>
<path d="M 369.18 441.18 
L 241.88 449.22 
L 241.21 402.13 
L 369.31 394.26 
z
" clip-path="url(#p1579cad66d)" style="fill: #ff0000; fill-opacity: 0.4"/>
</g>
<g id="Poly3DCollection_5">
<path d="M 214.16 344.34 
L 446.97 327.7 
L 447.55 281.66 
L 213.35 297.94 
z
" clip-path="url(#p1579cad66d)" style="fill: #ff0000; fill-opacity: 0.4"/>
<path d="M 446.97 327.7 
L 469.85 376.14 
L 470.59 329.04 
L 447.55 281.66 
z
" clip-path="url(#p1579cad66d)" style="fill: #ff0000; fill-opacity: 0.4"/>
<path d="M 241.21 402.13 
L 214.16 344.34 
L 213.35 297.94 
L 240.55 354.46 
z
" clip-path="url(#p1579cad66d)" style="fill: #ff0000; fill-opacity: 0.4"/>
<path d="M 469.85 376.14 
L 470.29 376.8 
L 471.03 329.68 
L 470.59 329.04 
z
" clip-path="url(#p1579cad66d)" style="fill: #ff0000; fill-opacity: 0.4"/>
<path d="M 470.29 376.8 
L 470.94 377.47 
L 471.69 330.33 
L 471.03 329.68 
z
" clip-path="url(#p1579cad66d)" style="fill: #ff0000; fill-opacity: 0.4"/>
<path d="M 470.94 377.47 
L 471.83 378.14 
L 472.58 330.99 
L 471.69 330.33 
z
" clip-path="url(#p1579cad66d)" style="fill: #ff0000; fill-opacity: 0.4"/>
<path d="M 471.83 378.14 
L 472.96 378.81 
L 473.72 331.64 
L 472.58 330.99 
z
" clip-path="url(#p1579cad66d)" style="fill: #ff0000; fill-opacity: 0.4"/>
<path d="M 472.96 378.81 
L 474.32 379.49 
L 475.09 332.31 
L 473.72 331.64 
z
" clip-path="url(#p1579cad66d)" style="fill: #ff0000; fill-opacity: 0.4"/>
<path d="M 474.32 379.49 
L 475.92 380.16 
L 476.7 332.97 
L 475.09 332.31 
z
" clip-path="url(#p1579cad66d)" style="fill: #ff0000; fill-opacity: 0.4"/>
<path d="M 475.92 380.16 
L 477.74 380.84 
L 478.53 333.63 
L 476.7 332.97 
z
" clip-path="url(#p1579cad66d)" style="fill: #ff0000; fill-opacity: 0.4"/>
<path d="M 477.74 380.84 
L 479.8 381.52 
L 480.6 334.3 
L 478.53 333.63 
z
" clip-path="url(#p1579cad66d)" style="fill: #ff0000; fill-opacity: 0.4"/>
<path d="M 479.8 381.52 
L 488.24 384.17 
L 489.09 336.89 
L 480.6 334.3 
z
" clip-path="url(#p1579cad66d)" style="fill: #ff0000; fill-opacity: 0.4"/>
<path d="M 488.24 384.17 
L 488.38 386.15 
L 489.24 338.83 
L 489.09 336.89 
z
" clip-path="url(#p1579cad66d)" style="fill: #ff0000; fill-opacity: 0.4"/>
<path d="M 488.38 386.15 
L 369.31 394.26 
L 369.43 346.75 
L 489.24 338.83 
z
" clip-path="url(#p1579cad66d)" style="fill: #ff0000; fill-opacity: 0.4"/>
<path d="M 369.31 394.26 
L 241.21 402.13 
L 240.55 354.46 
L 369.43 346.75 
z
" clip-path="url(#p1579cad66d)" style="fill: #ff0000; fill-opacity: 0.4"/>
</g>
<g id="Poly3DCollection_6">
<path d="M 270.41 267.76 
L 458.76 255.22 
L 459.43 207.58 
L 269.93 219.81 
z
" clip-path="url(#p1579cad66d)" style="fill: #ff0000; fill-opacity: 0.4"/>
<path d="M 458.76 255.22 
L 473.85 283.48 
L 474.62 235.15 
L 459.43 207.58 
z
" clip-path="url(#p1579cad66d)" style="fill: #ff0000; fill-opacity: 0.4"/>
<path d="M 281.59 288.2 
L 270.41 267.76 
L 269.93 219.81 
L 281.17 239.76 
z
" clip-path="url(#p1579cad66d)" style="fill: #ff0000; fill-opacity: 0.4"/>
<path d="M 459.19 279.42 
L 408.02 280.53 
L 408.38 232.28 
L 459.87 231.19 
z
" clip-path="url(#p1579cad66d)" style="fill: #ff0000; fill-opacity: 0.4"/>
<path d="M 408.02 280.53 
L 407.02 280.6 
L 407.38 232.34 
L 408.38 232.28 
z
" clip-path="url(#p1579cad66d)" style="fill: #ff0000; fill-opacity: 0.4"/>
<path d="M 472.78 283.26 
L 459.19 279.42 
L 459.87 231.19 
L 473.54 234.94 
z
" clip-path="url(#p1579cad66d)" style="fill: #ff0000; fill-opacity: 0.4"/>
<path d="M 473.85 283.48 
L 472.78 283.26 
L 473.54 234.94 
L 474.62 235.15 
z
" clip-path="url(#p1579cad66d)" style="fill: #ff0000; fill-opacity: 0.4"/>
<path d="M 407.02 280.6 
L 281.59 288.2 
L 281.17 239.76 
L 407.38 232.34 
z
" clip-path="url(#p1579cad66d)" style="fill: #ff0000; fill-opacity: 0.4"/>
</g>
<g id="Poly3DCollection_7">
<path d="M 236.98 305.62 
L 452.4 291.1 
L 453.02 244.3 
L 236.3 258.48 
z
" clip-path="url(#p1579cad66d)" style="fill: #ff0000; fill-opacity: 0.4"/>
<path d="M 452.4 291.1 
L 471.5 330.53 
L 472.25 282.81 
L 453.02 244.3 
z
" clip-path="url(#p1579cad66d)" style="fill: #ff0000; fill-opacity: 0.4"/>
<path d="M 257.19 347.12 
L 236.98 305.62 
L 236.3 258.48 
L 256.61 299.02 
z
" clip-path="url(#p1579cad66d)" style="fill: #ff0000; fill-opacity: 0.4"/>
<path d="M 471.5 330.53 
L 471.81 330.98 
L 472.57 283.25 
L 472.25 282.81 
z
" clip-path="url(#p1579cad66d)" style="fill: #ff0000; fill-opacity: 0.4"/>
<path d="M 471.81 330.98 
L 472.35 331.44 
L 473.11 283.7 
L 472.57 283.25 
z
" clip-path="url(#p1579cad66d)" style="fill: #ff0000; fill-opacity: 0.4"/>
<path d="M 472.35 331.44 
L 473.12 331.92 
L 473.89 284.17 
L 473.11 283.7 
z
" clip-path="url(#p1579cad66d)" style="fill: #ff0000; fill-opacity: 0.4"/>
<path d="M 473.12 331.92 
L 474.09 332.43 
L 474.86 284.67 
L 473.89 284.17 
z
" clip-path="url(#p1579cad66d)" style="fill: #ff0000; fill-opacity: 0.4"/>
<path d="M 474.09 332.43 
L 475.3 332.96 
L 476.08 285.18 
L 474.86 284.67 
z
" clip-path="url(#p1579cad66d)" style="fill: #ff0000; fill-opacity: 0.4"/>
<path d="M 475.3 332.96 
L 476.71 333.51 
L 477.5 285.72 
L 476.08 285.18 
z
" clip-path="url(#p1579cad66d)" style="fill: #ff0000; fill-opacity: 0.4"/>
<path d="M 476.71 333.51 
L 478.35 334.07 
L 479.15 286.27 
L 477.5 285.72 
z
" clip-path="url(#p1579cad66d)" style="fill: #ff0000; fill-opacity: 0.4"/>
<path d="M 478.35 334.07 
L 480.22 334.66 
L 481.03 286.84 
L 479.15 286.27 
z
" clip-path="url(#p1579cad66d)" style="fill: #ff0000; fill-opacity: 0.4"/>
<path d="M 480.22 334.66 
L 396 339.23 
L 396.29 291.31 
L 481.03 286.84 
z
" clip-path="url(#p1579cad66d)" style="fill: #ff0000; fill-opacity: 0.4"/>
<path d="M 396 339.23 
L 395 339.3 
L 395.28 291.38 
L 396.29 291.31 
z
" clip-path="url(#p1579cad66d)" style="fill: #ff0000; fill-opacity: 0.4"/>
<path d="M 395 339.3 
L 257.19 347.12 
L 256.61 299.02 
L 395.28 291.38 
z
" clip-path="url(#p1579cad66d)" style="fill: #ff0000; fill-opacity: 0.4"/>
</g>
</g>
</g>
<defs>
<clipPath id="p1579cad66d">
<rect x="7.26" y="41.34" width="665.58" height="665.58"/>
</clipPath>
</defs>
<g transform="scale(0.72)" font-family="Liberation Sans, sans-serif" fill="#000">
<text x="374.99" y="25.60" font-size="20.00" textLength="194.15" lengthAdjust="spacingAndGlyphs">3D Building on Parcel</text>
<text x="228.11" y="49.60" font-size="20.00" textLength="486.80" lengthAdjust="spacingAndGlyphs">(Green Platform = Parcel Area, Red Volume = Building)</text>
<rect x="20.80" y="68.70" width="201.20" height="130.20" rx="5.5" ry="5.5" fill="#f6e1bd" stroke="#2b2b2b" stroke-width="1.3"/>
<text x="28.02" y="89.40" font-size="16.00" textLength="164.59" lengthAdjust="spacingAndGlyphs">3D BUILDING ANALYSIS</text>
<text x="28.09" y="109.10" font-size="16.00" textLength="185.13" lengthAdjust="spacingAndGlyphs">Total Parcel Area: 154.7 m²</text>
<text x="27.73" y="128.80" font-size="16.00" textLength="185.80" lengthAdjust="spacingAndGlyphs">Building Footprint: 92.8 m²</text>
<text x="27.58" y="148.50" font-size="16.00" textLength="169.21" lengthAdjust="spacingAndGlyphs">Uncovered Area: 61.9 m²</text>
<text x="27.53" y="168.20" font-size="16.00" textLength="140.09" lengthAdjust="spacingAndGlyphs">Number of Floors: 6</text>
<text x="28.09" y="187.90" font-size="16.00" textLength="177.79" lengthAdjust="spacingAndGlyphs">Total Floor Area: 392.8 m²</text>
</g>
</svg>

</body></html>
